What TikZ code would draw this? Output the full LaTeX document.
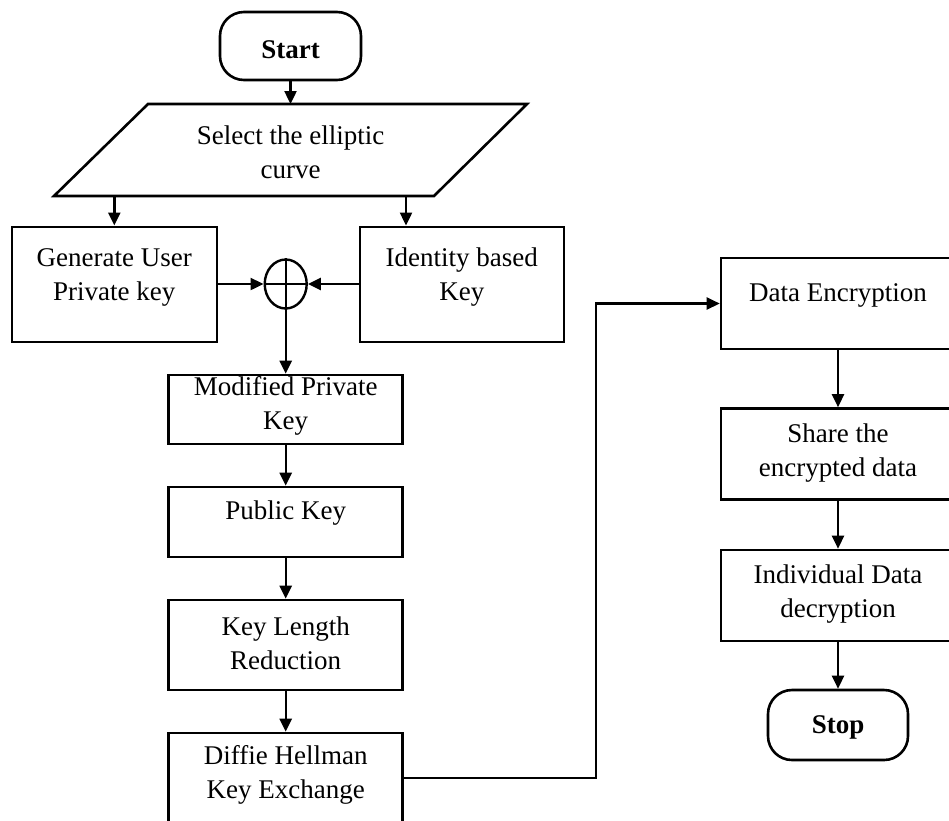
\documentclass[tikz,border=0pt]{standalone}
\usepackage{fontspec}
\setmainfont{Liberation Serif}
\usetikzlibrary{arrows.meta,shapes.geometric}
\begin{document}
\begin{tikzpicture}[x=1pt,y=-1pt,line width=2.4pt,
  arr/.style={-{Triangle[length=13pt,width=12pt]},line width=2.4pt},
  box/.style={draw,rectangle,inner sep=0pt,line width=2.6pt},
  term/.style={draw,rectangle,rounded corners=24pt,inner sep=0pt,line width=2.6pt,
    minimum width=141pt,minimum height=68pt},
  lbl/.style={align=center,inner sep=0pt,font=\fontsize{27}{34}\selectfont}]
\useasboundingbox (0,0) rectangle (949,820);
\clip (0,0) rectangle (949,820);

% terminals
\node[term] (start) at (290.5,46) {};
\node[lbl,font=\fontsize{27}{34}\selectfont\bfseries] (startT) at (290.5,50) {Start};

% input (parallelogram)
\coordinate (selT) at (290.5,104);
\coordinate (selBL) at (114.3,196);
\coordinate (selBR) at (406,196);
\draw[line width=2.6pt,line join=miter] (148,104) -- (527,104) -- (434,196) -- (54,196) -- cycle;
\node[lbl] (selTxt) at (290.5,152) {Select the elliptic\\curve};

% key generation
\node[box,minimum width=205pt,minimum height=115pt] (gen) at (114.3,284.3) {};
\node[lbl] (genT) at (114.3,277) {Generate User\\Private key};
\node[box,minimum width=204pt,minimum height=115pt] (idk) at (461.8,284.3) {};
\node[lbl] (idkT) at (461.8,277) {Identity based\\Key};
\node[draw,ellipse,inner sep=0pt,minimum width=42pt,minimum height=49pt,line width=2.4pt] (xor) at (285.7,284) {};
\draw (xor.north) -- (xor.south);
\draw (xor.west) -- (xor.east);

% left column
\node[box,minimum width=234pt,minimum height=69pt] (mod) at (285.7,409.5) {};
\node[lbl] (modT) at (285.7,406) {Modified Private\\Key};
\node[box,minimum width=234pt,minimum height=70pt] (pub) at (285.7,522) {};
\node[lbl] (pubT) at (285.7,513) {Public Key};
\node[box,minimum width=234pt,minimum height=90pt] (klr) at (285.7,645) {};
\node[lbl] (klrT) at (285.7,643.5) {Key Length\\Reduction};
\node[box,minimum width=234pt,minimum height=90pt] (dh) at (285.7,778) {};
\node[lbl] (dhT) at (285.7,775) {Diffie Hellman\\Key Exchange};

% right column
\node[box,minimum width=239pt,minimum height=91pt] (enc) at (840.5,303.5) {};
\node[lbl] (encT) at (838,295) {Data Encryption};
\node[box,minimum width=239pt,minimum height=91pt] (shr) at (840.5,454) {};
\node[lbl] (shrT) at (838,453) {Share the\\encrypted data};
\node[box,minimum width=239pt,minimum height=91pt] (ind) at (840.5,595.5) {};
\node[lbl] (indT) at (838,594) {Individual Data\\decryption};
\node[term,minimum width=140pt,minimum height=70pt] (stop) at (838,725) {};
\node[lbl,font=\fontsize{27}{34}\selectfont\bfseries] (stopT) at (838,727) {Stop};

% connectors
\draw[arr] (start.south) -- (selT);
\draw[arr] (selBL) -- (gen.north);
\draw[arr] (selBR) -- (selBR |- idk.north);
\draw[arr] (gen.east |- xor.west) -- (xor.west);
\draw[arr] (idk.west |- xor.east) -- (xor.east);
\draw[arr] (xor.south) -- (mod.north);
\draw[arr] (mod.south) -- (pub.north);
\draw[arr] (pub.south) -- (klr.north);
\draw[arr] (klr.south) -- (dh.north);
\coordinate (turn) at (596,303.5);
\draw[arr] (dh.east) -| (turn) -- (enc.west);
\draw[arr] (stop.north |- enc.south) -- (stop.north |- shr.north);
\draw[arr] (stop.north |- shr.south) -- (stop.north |- ind.north);
\draw[arr] (stop.north |- ind.south) -- (stop.north);
\end{tikzpicture}
\end{document}
